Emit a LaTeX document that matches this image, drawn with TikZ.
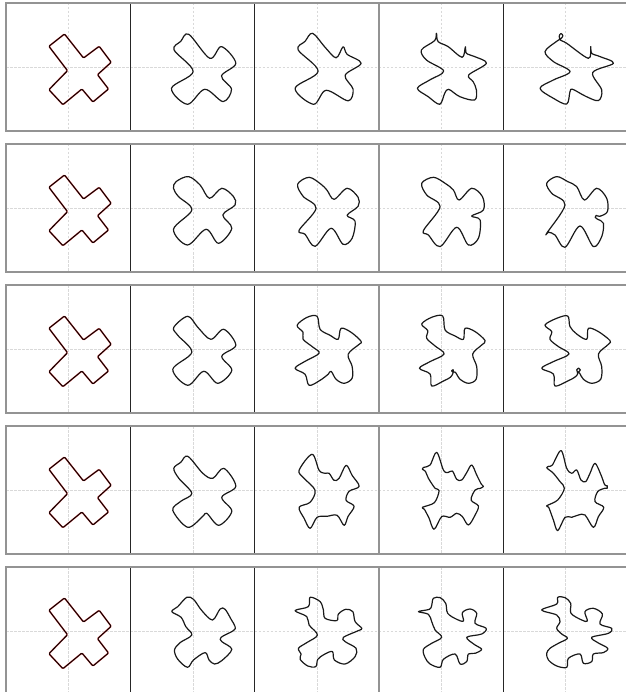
\documentclass[tikz,border=0pt]{standalone}
\begin{document}
\begin{tikzpicture}[x=1pt,y=-1pt,
  crosshair/.style={gray!30, line width=0.5pt, dash pattern=on 2.5pt off 1.5pt},
  frameline/.style={gray!85, line width=1.5pt},
  divider/.style={black!85, line width=0.8pt},
  curve/.style={black!90, line width=1.2pt, line join=round},
  target/.style={red!50, line width=1.6pt, line join=round},
  initial/.style={black!92!red, line width=1.1pt, line join=round}]
\useasboundingbox (0,0) rectangle (625,692);
\fill[white] (0,0) rectangle (625,692);
% frames and crosshairs
\foreach \r in {0,...,4} {
  \pgfmathsetmacro{\ytop}{3+141*\r}
  \pgfmathsetmacro{\ybot}{131+141*\r}
  \pgfmathsetmacro{\ymid}{67.3+141*\r}
  \foreach \c in {0,...,4} {
    \pgfmathsetmacro{\xm}{68.5+124.3*\c}
    \pgfmathsetmacro{\xl}{6+124.3*\c}
    \pgfmathsetmacro{\xr}{130.3+124.3*\c}
    \draw[crosshair] (\xm,\ytop) -- (\xm,\ybot);
    \draw[crosshair] (\xl,\ymid) -- (\xr,\ymid);
  }
  \foreach \x in {130.3,254.6,503.2} {\draw[divider] (\x,\ytop) -- (\x,\ybot);}
  \draw[frameline] (378.9,\ytop) -- (378.9,\ybot);
  \draw[frameline] (630,\ytop) -- (6,\ytop) -- (6,\ybot) -- (630,\ybot);
}
\newcommand\cvpanel[3]{%
  \begin{scope}[shift={({68.5+124.3*#2},{67.3+141*#1})}]
    \draw[curve] plot[smooth cycle, tension=0.55] coordinates {#3};
  \end{scope}}
% column 1: the cross
\foreach \r in {0,...,4} {
  \begin{scope}[shift={(68.5,{67.3+141*\r})}]
    \draw[target, rounded corners=1pt] (-4,-33.3) -- (-19.6,-21) -- (-1,3.4) -- (-19.6,22.4) -- (-5.6,37.4) -- (13.4,21.7) -- (24.4,34.7) -- (40,21.7) -- (29,7.4) -- (42.7,-5) -- (30.7,-21) -- (15,-9.3) -- cycle;
    \draw[initial, rounded corners=1pt] (-4,-33.3) -- (-19.6,-21) -- (-1,3.4) -- (-19.6,22.4) -- (-5.6,37.4) -- (13.4,21.7) -- (24.4,34.7) -- (40,21.7) -- (29,7.4) -- (42.7,-5) -- (30.7,-21) -- (15,-9.3) -- cycle;
  \end{scope}
}
% row 1
\cvpanel{0}{1}{(-4,-33) (-12,-26) (-18.7,-17.3) (0.3,4.3) (-21.3,21) (-5.3,37) (12,22) (30.3,34.3) (38.7,22) (28.7,8.7) (43,-4) (28.7,-20.7) (17,-9)}
\cvpanel{0}{2}{(-4.5,-34) (-12,-26) (-19,-17.5) (1,4) (-22,21) (-3.5,37) (9,23) (31,33.5) (36,22) (28,8) (44,-4) (30,-13) (26,-20.5) (19,-9.5) (8,-20)}
\cvpanel{0}{3}{(-5,-34) (-6.7,-26.7) (-20,-17.3) (-15,-7.3) (2.3,3.7) (-11.7,12.7) (-24,21) (-13.3,29.3) (-1.7,37) (3.3,26) (7.3,22) (18.3,29.3) (33.3,32.7) (35,22.7) (31.7,14.3) (27.3,7.7) (45,-4) (33.3,-10.7) (25,-14) (24,-20.5) (20.7,-10) (6.7,-20.7) (-3.3,-25.7)}
\cvpanel{0}{4}{(-5,-27) (-6.5,-31) (-4.8,-33.8) (-2.8,-31.5) (-5,-28.5) (-9,-26) (-20.7,-15.7) (-12.3,-5.7) (4.3,4.3) (-12.3,12.7) (-25.7,21) (-12.3,31) (1,36.7) (4.3,24.3) (7,22) (20,29) (32.7,33.3) (36,22.7) (27,5.3) (47.7,-4) (34.3,-10.7) (26,-14) (25,-20.7) (22.7,-9) (1,-24)}
% row 2
\cvpanel{1}{1}{(-4.3,-31.7) (-16.7,-26.7) (-19.3,-20) (-14.3,-11.7) (-1,1.7) (-19.3,21) (-5.3,36.7) (13.3,21) (25.7,35) (39,20) (30,6.7) (42.3,-3.3) (40.7,-11.7) (29,-20) (16.7,-10) (7.3,-23.3)}
\cvpanel{1}{2}{(-19.5,-24) (-8,-31) (4,-24) (10,-18) (17,-9) (30,-20) (41,-11) (41,-2) (30,7) (38,13) (35,30) (26,36) (14,20) (-2,38) (-12,26) (-18,22) (-1,0) (-14,-12)}
\cvpanel{1}{3}{(-19.7,-25) (-8,-31) (3.7,-25) (12,-18.3) (17.7,-8.3) (30.3,-20) (41,-11.7) (42,1.7) (30.3,7.7) (38.7,11.7) (37,30) (27,36.7) (15.3,19) (-1.3,38.3) (-13,26.7) (-18,22.3) (-1.3,-1.7) (-14.7,-13.3)}
\cvpanel{1}{4}{(-19,-25) (-9,-31.7) (2,-26.7) (11,-21.7) (18.7,-8.3) (31,-20) (41,-10) (41.7,3.3) (34,8) (30.5,7) (29.5,9) (32,11) (37.7,15) (36,28.3) (27.7,38.3) (14.3,17.7) (-0.7,39) (-10.7,26.7) (-17,24) (-19,25) (-0.7,-3.3) (-14,-15)}
% row 3
\cvpanel{2}{1}{(-5,-33) (-19,-22) (-15,-14) (-1,3) (-20,20) (-5,36) (11,22) (25,34) (39,21) (29,7) (43,-4) (31,-20) (18,-10) (5,-22)}
\cvpanel{2}{2}{(0,-33) (-10,-32) (-20,-24) (-14,-17) (-14,-10) (-4,-2) (2,4) (-12,12) (-22,19) (-12,25) (-8,36) (3,31) (11,25) (14,22) (19,30) (27,34) (35,29) (35,17) (31,5) (42,-5) (44,-8) (34,-17) (24,-21) (21,-10) (13,-14) (3,-20)}
\cvpanel{2}{3}{(1.3,-33.3) (-9.7,-32) (-19.7,-25.3) (-13.7,-18.7) (-14.7,-11) (-6.3,-3.3) (2.7,4.7) (-11.3,12.3) (-22,19) (-11.3,24.7) (-9.7,36.7) (2,31.7) (9,28) (11.5,24) (11.8,20.5) (10.2,21.5) (11.5,23) (14,23) (18.7,30) (27,34) (34.7,30) (35.3,17.3) (31.3,4.7) (40.3,-4.3) (43.7,-8.7) (33.7,-17.7) (23.7,-21) (22,-10) (13.7,-13.3) (3.7,-19.3)}
\cvpanel{2}{4}{(2,-33.3) (-9,-31) (-20.7,-24.3) (-14,-17.7) (-15.7,-10) (-7.3,-2.7) (3.3,4.7) (-12.3,12.3) (-24,19) (-12.3,24.7) (-10.7,36.7) (2,31.7) (9,28) (12,24.5) (11,20.5) (12.8,18.8) (14.6,20.6) (13,22.8) (11.5,22) (14,24) (17.7,30) (26,34) (35,30) (36,17.3) (32.7,4.7) (42.7,-5) (44.3,-8.7) (32.7,-17.7) (22.7,-21) (21,-10) (11,-15.3) (4.3,-22.7)}
% row 4
\cvpanel{3}{1}{(-5,-34) (-12,-28) (-19,-22) (-14,-12) (-1,3) (-12,11) (-20,20) (-5,37) (10,26) (14,23) (26,35) (39,21) (29,7) (43,-4) (31,-22) (20,-12) (10,-17)}
\cvpanel{3}{2}{(-5,-36) (2,-20) (8,-17) (12,-17) (17,-10) (22,-12) (29,-25) (35,-15) (42,-4) (32,1) (29,10) (37,16) (31,26) (27,35) (20,25) (10,26) (0,27) (-7,38) (-13,28) (-18,17) (-7,12) (-2,0) (-13,-12) (-18,-20)}
\cvpanel{3}{3}{(-4.7,-38) (2,-20.3) (6.3,-17.7) (11,-19.3) (15.3,-11) (20.3,-10.3) (25.3,-17.7) (30.3,-25.3) (35.3,-15.3) (40,-6) (42,-4) (39,-2) (33.7,-0.3) (29.7,9.7) (37,15.7) (33.7,24.7) (27,34.7) (21,26.3) (15.3,23) (8.7,27) (0.3,26.3) (-7.3,39) (-12.3,28) (-17,19) (-19,17) (-7,12.3) (-2.3,0.3) (-6.3,-2) (-13,-12) (-16,-19) (-19,-21) (-17.5,-23) (-11.3,-25.3)}
\cvpanel{3}{4}{(-4.7,-39.7) (1,-22) (6,-17) (11,-20.3) (15.3,-10.3) (20,-8.7) (24.3,-17) (29.3,-27) (35.3,-15.3) (39,-5.5) (41.5,-4.5) (41.5,-2) (39,-2) (32,1.3) (29.3,11.3) (38,17) (32.7,26.3) (27.7,37) (19.3,24.7) (12.7,24.7) (6,27) (-0.7,27) (-8,40.3) (-12.3,29.7) (-17,17) (-19,15.5) (-8,9.7) (-1.3,-2) (-5.7,-8.7) (-12.3,-17) (-16,-20) (-19,-22.5) (-17,-24) (-13.3,-25.3)}
% row 5
\cvpanel{4}{1}{(-6,-34) (-15,-24.7) (-21,-19.7) (-11.7,-14) (-7,-4.7) (-1,3.7) (-12.7,11.3) (-18.3,18.7) (-15,28) (-5.3,36) (0.7,28.7) (12.3,21.3) (16.3,28.7) (21.7,32.7) (29,29.3) (39,18) (29,10.3) (28.3,6) (40.7,-0.7) (42.3,-4.7) (38.3,-12) (32.3,-22) (27.3,-22.3) (19.7,-11.3) (9,-20.7) (0.7,-32)}
\cvpanel{4}{2}{(-7,-34) (-8.7,-24.7) (-22,-20.7) (-10.3,-14.7) (-8,-6.3) (0.3,3.7) (-10.3,11.3) (-18.7,17) (-16,22.7) (-17,28) (-9.3,34.7) (-1.3,35.3) (0.7,28) (7.3,23) (15.3,20.3) (17.3,28.7) (28,32.7) (38,25.3) (39,17) (28,10.3) (26.3,6) (41.3,-0.7) (44.7,-3) (38,-9.7) (35.7,-19.7) (28.7,-22) (21.3,-17.3) (19.7,-10.7) (8,-13) (6.3,-21.3) (3,-29.7)}
\cvpanel{4}{3}{(-23,-19.7) (-12,-22) (-9.7,-26) (-8,-33) (-1.3,-33.7) (4.3,-28) (6.3,-18) (15.3,-12) (22,-10.3) (21,-18.7) (28.7,-22.3) (35.3,-18) (33.7,-8) (44.7,-3) (40.3,2.7) (25.3,6) (33.7,13.7) (40.3,18) (33.7,22) (27,22.7) (25.3,30.3) (18.7,32.7) (13.7,22.7) (2,28) (-1.3,36) (-11.3,32.7) (-16.3,26.3) (-18,18) (-9.7,12) (0.3,6) (-6.3,-1.3) (-9.7,-9.7) (-13,-17)}
\cvpanel{4}{4}{(-24,-21.3) (-9,-27.3) (-8,-34) (-0.7,-33.7) (5,-28) (5.3,-18) (16,-11.3) (21.7,-10.3) (19.3,-19.7) (27.7,-23) (36.7,-17.3) (34.3,-7.3) (46,-3) (42.7,2) (26,6) (32,11.3) (42,17) (37.7,21.3) (27.7,22.7) (26,30.3) (17.7,32) (14.3,22.7) (2.7,27) (1,36) (-9,34.7) (-17.3,28.7) (-19,22) (-15.7,17) (-7.3,12) (1.7,7) (-4,2.7) (-9,-3) (-5.7,-9.7) (-9,-16.3)}
\end{tikzpicture}
\end{document}
